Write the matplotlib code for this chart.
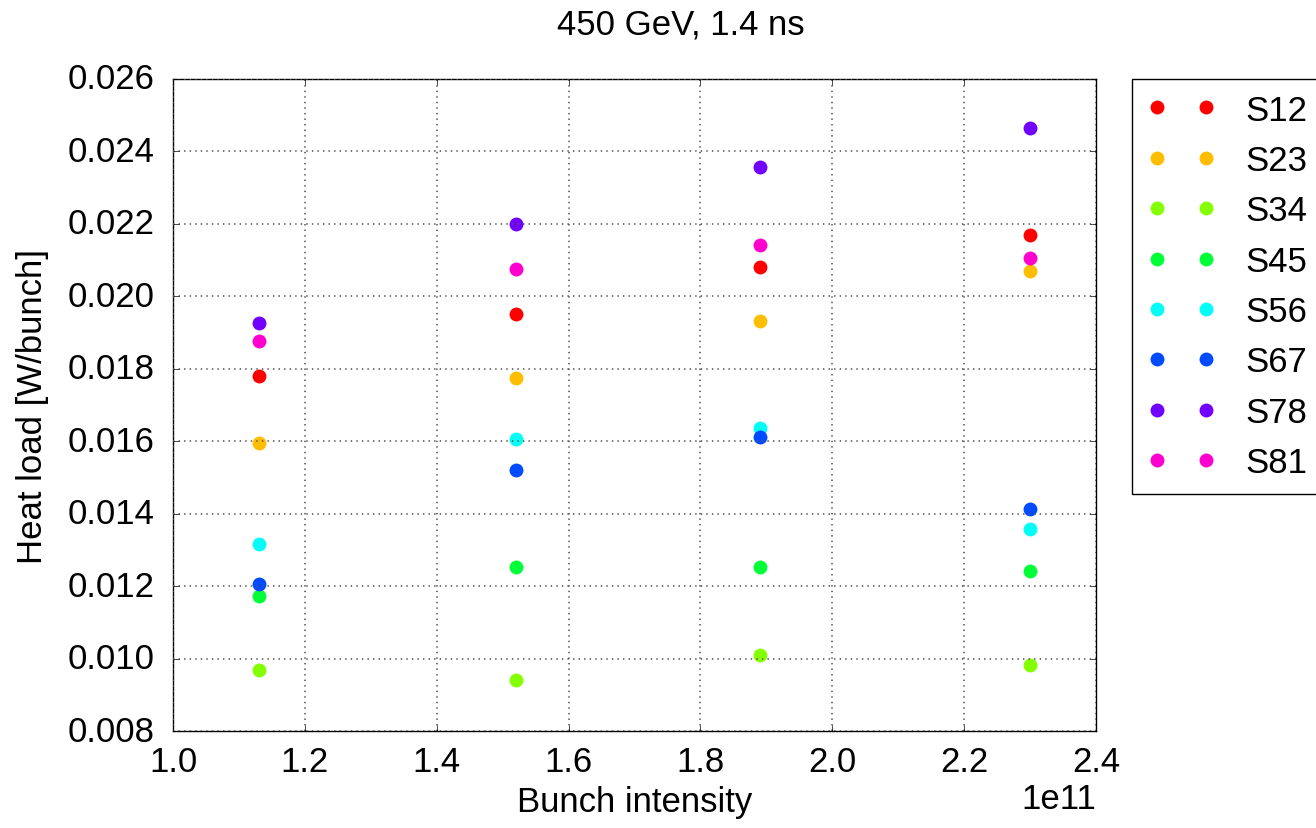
"""
Heat load per bunch vs bunch intensity, 450 GeV, 1.4 ns
"""

import matplotlib
matplotlib.use('Agg')
import matplotlib.pyplot as plt
import numpy as np

# Data
intensities = [1.13e11, 1.52e11, 1.89e11, 2.30e11]
sectors = ['S12', 'S23', 'S34', 'S45', 'S56', 'S67', 'S78', 'S81']
S12 = [0.01781, 0.01950, 0.02081, 0.02170]
S23 = [0.01594, 0.01775, 0.01933, 0.02070]
S34 = [0.00969, 0.00940, 0.01011, 0.00982]
S45 = [0.01174, 0.01253, 0.01253, 0.01242]
S56 = [0.01317, 0.01606, 0.01637, 0.01358]
S67 = [0.01207, 0.01521, 0.01612, 0.01412]
S78 = [0.01927, 0.02200, 0.02357, 0.02466]
S81 = [0.01878, 0.02075, 0.02142, 0.02106]
heat_loads = [S12, S23, S34, S45, S56, S67, S78, S81]


def main():
    plt.style.use('classic')
    plt.rcParams['font.family'] = ['Liberation Sans', 'DejaVu Sans']
    plt.rcParams['font.size'] = 25
    plt.rcParams['figure.facecolor'] = 'white'
    plt.rcParams['savefig.facecolor'] = 'white'

    fig = plt.figure(figsize=(13.16, 8.29), dpi=100)
    ax = fig.add_axes([0.1315, 0.117, 0.7013, 0.7865])

    for i, (name, vals) in enumerate(zip(sectors, heat_loads)):
        color = plt.cm.hsv(i / 8.)
        ax.plot(intensities, vals, 'o', color=color, markeredgecolor=color,
                markeredgewidth=0, markersize=10, label=name)

    ax.set_xlim(1.0e11, 2.4e11)
    ax.set_ylim(0.008, 0.026)
    ax.set_yticks(np.arange(0.008, 0.0261, 0.002))
    ax.yaxis.set_major_formatter(matplotlib.ticker.FormatStrFormatter('%.3f'))
    ax.grid(True, linestyle=':', color='0.35', linewidth=1.2)
    ax.tick_params(labelsize=25, pad=10)
    ax.tick_params(axis='y', pad=13)
    ax.xaxis.get_offset_text().set_fontsize(25)

    ax.set_xlabel('Bunch intensity', fontsize=25)
    ax.set_ylabel('Heat load [W/bunch]', fontsize=25, labelpad=14)
    # title sits centred on the (wider, cropped) original figure
    fig.suptitle('450 GeV, 1.4 ns', fontsize=25, x=0.517, y=0.97, va='center')

    ax.legend(loc='upper left', bbox_to_anchor=(1.039, 1.0), borderaxespad=0,
              numpoints=2, fontsize=25, handlelength=2.0, handletextpad=0.85,
              labelspacing=0.5, borderpad=0.42)

    fig.savefig('out.png', dpi=100)


if __name__ == '__main__':
    main()
